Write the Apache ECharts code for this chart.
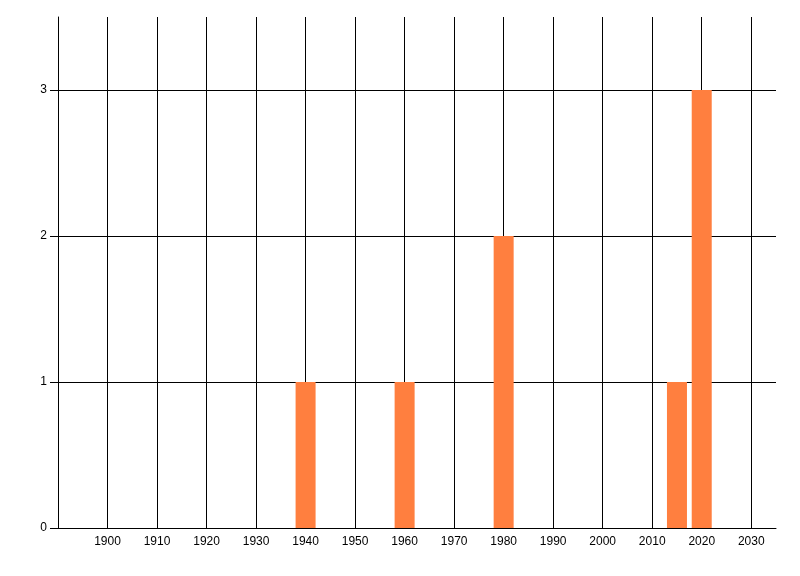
<!DOCTYPE html>
<html><head><meta charset="utf-8">
<script src="https://cdn.jsdelivr.net/npm/echarts@6/dist/echarts.min.js"></script>
<style>html,body{margin:0;padding:0;background:#fff}#c{width:800px;height:576px}</style>
</head><body><div id="c"></div>
<script>
var years = [1940, 1960, 1980, 2015, 2020];
var counts = [1, 1, 2, 1, 3];
var xMin = 1890, xMax = 2035, xStep = 10;
var yMin = 0, yMax = 3.5, yStep = 1;

var chart = echarts.init(document.getElementById('c'));
var font = {fontFamily: '"Liberation Sans Narrow", "Liberation Sans", Arial, sans-serif', fontSize: 12, color: '#000'};
chart.setOption({
  animation: false,
  grid: {left: 58, right: 24, top: 17, bottom: 48},
  xAxis: {
    type: 'value', min: xMin, max: xMax, interval: xStep,
    axisLine: {show: true, lineStyle: {color: '#000', width: 1}},
    axisTick: {show: false},
    axisLabel: Object.assign({margin: 8, showMinLabel: false, showMaxLabel: false,
      formatter: function(v){ return String(v); }}, font),
    splitLine: {show: true, showMaxLine: false, lineStyle: {color: '#000', width: 1}}
  },
  yAxis: {
    type: 'value', min: yMin, max: yMax, interval: yStep,
    axisLine: {show: true, lineStyle: {color: '#000', width: 1}},
    axisTick: {show: true, length: 8, lineStyle: {color: '#000'}},
    axisLabel: Object.assign({margin: 11, showMaxLabel: false,
      formatter: function(v){ return String(v); }}, font),
    splitLine: {show: true, showMaxLine: false, lineStyle: {color: '#000', width: 1}}
  },
  series: [{
    type: 'bar',
    barWidth: 20,
    itemStyle: {color: '#FF7F3F'},
    data: years.map(function(y, i){ return [y, counts[i]]; })
  }]
});
</script></body></html>
